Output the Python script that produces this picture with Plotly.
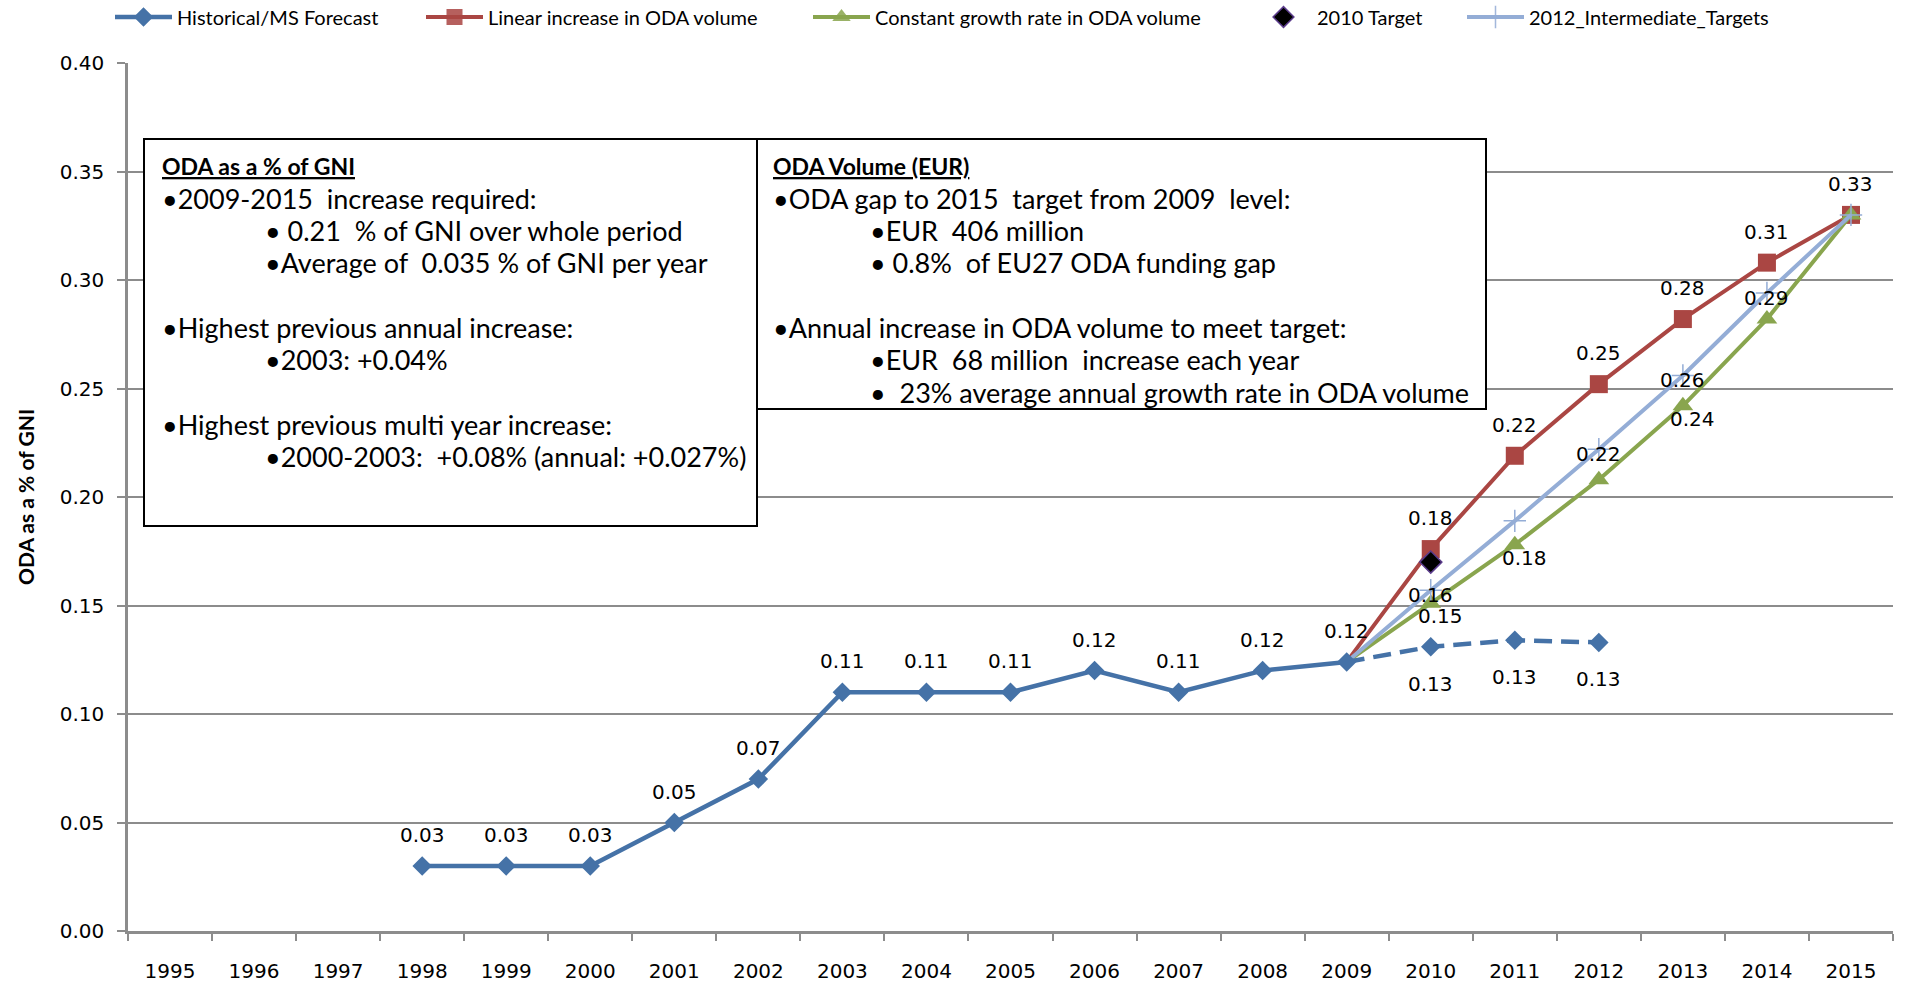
import plotly.graph_objects as go

# ---------------- data ----------------
years = ["1995", "1996", "1997", "1998", "1999", "2000", "2001", "2002", "2003", "2004",
         "2005", "2006", "2007", "2008", "2009", "2010", "2011", "2012", "2013", "2014", "2015"]

hist_years = ["1998", "1999", "2000", "2001", "2002", "2003", "2004", "2005", "2006", "2007", "2008", "2009"]
hist_vals = [0.03, 0.03, 0.03, 0.05, 0.07, 0.11, 0.11, 0.11, 0.12, 0.11, 0.12, 0.124]

fc_years = ["2009", "2010", "2011", "2012"]
fc_vals = [0.124, 0.131, 0.134, 0.133]

proj_years = ["2009", "2010", "2011", "2012", "2013", "2014", "2015"]
linear_vals = [0.124, 0.176, 0.219, 0.252, 0.282, 0.308, 0.330]
constant_vals = [0.124, 0.151, 0.178, 0.208, 0.242, 0.282, 0.330]
interm_vals = [0.124, 0.157, 0.189, 0.222, 0.256, 0.294, 0.330]

target_years = ["2010"]
target_vals = [0.170]

# which points carry a data label in the original
hist_labelled = hist_years
fc_labelled = ["2010", "2011", "2012"]
linear_labelled = ["2010", "2011", "2012", "2013", "2014", "2015"]
constant_labelled = ["2010", "2011", "2013"]
interm_labelled = ["2010", "2012", "2013", "2014"]

y_ticks = [0.00, 0.05, 0.10, 0.15, 0.20, 0.25, 0.30, 0.35, 0.40]

box1_title = "ODA as a % of GNI"
box1_lines = [
    (0, "•2009-2015\u00a0 increase required:"),
    (1, "•\u00a00.21\u00a0 % of GNI over whole period"),
    (1, "•Average of\u00a0 0.035 % of GNI per year"),
    (0, ""),
    (0, "•Highest previous annual increase:"),
    (1, "•2003: +0.04%"),
    (0, ""),
    (0, "•Highest previous multi year increase:"),
    (1, "•2000-2003:\u00a0 +0.08% (annual: +0.027%)"),
]
box2_title = "ODA Volume (EUR)"
box2_lines = [
    (0, "•ODA gap to 2015\u00a0 target from 2009\u00a0 level:"),
    (1, "•EUR\u00a0 406 million"),
    (1, "•\u00a00.8%\u00a0 of EU27 ODA funding gap"),
    (0, ""),
    (0, "•Annual increase in ODA volume to meet target:"),
    (1, "•EUR\u00a0 68 million\u00a0 increase each year"),
    (1, "•\u00a0 23% average annual growth rate in ODA volume"),
]

# ---------------- styling ----------------
W, H = 1908, 986
ML, MR, MT, MB = 128, 15, 63, 55
PW, PH = W - ML - MR, H - MT - MB

BLUE = "#4572A7"
RED = "#AA4643"
GREEN = "#89A54E"
LBLUE = "#94ADD6"
GRID = "#8C8C8C"
LABEL_FONT = dict(family="DejaVu Sans", size=20, color="#000000")
BOX_FONT = "Lato"

# projected series share the 2009 point with the historical line; hide their marker there
proj_marker_opacity = [0 if y == "2009" else 1 for y in proj_years]
fc_marker_opacity = [0 if y == "2009" else 1 for y in fc_years]


def px_x(px):
    return (px - ML) / PW


def px_y(py):
    return (H - MB - py) / PH


fig = go.Figure()

fig.add_trace(go.Scatter(
    x=proj_years, y=linear_vals, mode="lines+markers", name="Linear increase in ODA volume",
    line=dict(color=RED, width=4), legend="legend2",
    marker=dict(symbol="square", size=18, color=RED, opacity=proj_marker_opacity),
))
fig.add_trace(go.Scatter(
    x=proj_years, y=constant_vals, mode="lines+markers", name="Constant growth rate in ODA volume",
    line=dict(color=GREEN, width=4), legend="legend3",
    marker=dict(symbol="triangle-up", size=18, color=GREEN, opacity=proj_marker_opacity),
))
fig.add_trace(go.Scatter(
    x=target_years, y=target_vals, mode="markers", name="2010 Target", legend="legend4",
    marker=dict(symbol="diamond", size=17, color="#000000", line=dict(color="#5B3C8C", width=1.5)),
))
fig.add_trace(go.Scatter(
    x=proj_years, y=interm_vals, mode="lines+markers", name="2012_Intermediate_Targets",
    line=dict(color=LBLUE, width=4), legend="legend5",
    marker=dict(symbol="cross-thin", size=16, color=LBLUE, opacity=proj_marker_opacity,
                line=dict(color=LBLUE, width=1.5)),
))
fig.add_trace(go.Scatter(
    x=fc_years, y=fc_vals, mode="lines+markers", name="MS Forecast", showlegend=False,
    line=dict(color=BLUE, width=4.5, dash="18px,9px"),
    marker=dict(symbol="diamond", size=15, color=BLUE, opacity=fc_marker_opacity),
))
fig.add_trace(go.Scatter(
    x=hist_years, y=hist_vals, mode="lines+markers", name="Historical/MS Forecast",
    line=dict(color=BLUE, width=4.5), legend="legend",
    marker=dict(symbol="diamond", size=15, color=BLUE),
))

# ---------------- data labels ----------------
annotations = []


def add_labels(xs, ys, shown, xshift, yshift):
    for xv, yv in zip(xs, ys):
        if xv in shown:
            annotations.append(dict(
                x=years.index(xv), y=yv, xref="x", yref="y", text=f"{yv:.2f}", showarrow=False,
                font=LABEL_FONT, xanchor="center", yanchor="middle",
                xshift=xshift, yshift=yshift,
            ))


add_labels(hist_years, hist_vals, hist_labelled, 0, 31)
add_labels(fc_years, fc_vals, fc_labelled, 0, -37)
add_labels(proj_years, linear_vals, linear_labelled, 0, 31)
add_labels(proj_years, constant_vals, constant_labelled, 10, -13)
add_labels(proj_years, interm_vals, interm_labelled, 0, -5)

# ---------------- text boxes ----------------
shapes = []


def add_box(x0, y0, x1, y1, title, lines, main_x, sub_x, first_y, step, size, tsize):
    shapes.append(dict(
        type="rect", xref="paper", yref="paper",
        x0=px_x(x0), x1=px_x(x1), y0=px_y(y1), y1=px_y(y0),
        line=dict(color="#000000", width=2), fillcolor="#FFFFFF", layer="above",
    ))
    annotations.append(dict(
        x=px_x(main_x), y=px_y(first_y), xref="paper", yref="paper",
        text=f"<b><u>{title}</u></b>", showarrow=False, xanchor="left", yanchor="middle",
        font=dict(family=BOX_FONT, size=tsize, color="#000000"),
    ))
    for i, (lvl, txt) in enumerate(lines, start=1):
        if not txt:
            continue
        annotations.append(dict(
            x=px_x(sub_x if lvl else main_x), y=px_y(first_y + i * step),
            xref="paper", yref="paper", text=txt, showarrow=False,
            xanchor="left", yanchor="middle",
            font=dict(family=BOX_FONT, size=size, color="#000000"),
        ))


add_box(144, 139, 757, 526, box1_title, box1_lines, 160, 263, 166, 32.3, 27, 23)
add_box(757, 139, 1486, 409, box2_title, box2_lines, 771, 868, 166, 32.3, 27, 23)

legend_common = dict(
    orientation="h", yanchor="middle", y=px_y(17), xanchor="left",
    font=dict(family=BOX_FONT, size=20, color="#000000"),
    itemwidth=57, bgcolor="rgba(0,0,0,0)",
)

fig.update_layout(
    width=W, height=H,
    margin=dict(l=ML, r=MR, t=MT, b=MB, pad=0, autoexpand=False),
    paper_bgcolor="#FFFFFF", plot_bgcolor="#FFFFFF",
    showlegend=True,
    legend=dict(legend_common, x=px_x(110)),
    legend2=dict(legend_common, x=px_x(421)),
    legend3=dict(legend_common, x=px_x(808)),
    legend4=dict(legend_common, x=px_x(1250)),
    legend5=dict(legend_common, x=px_x(1462)),
    xaxis=dict(
        type="category", categoryorder="array", categoryarray=years,
        range=[-0.5, len(years) - 0.5],
        tickmode="array", tickvals=years, ticktext=years,
        tickson="boundaries", ticks="outside", ticklen=7, tickwidth=1.5, tickcolor=GRID,
        showline=True, linecolor=GRID, linewidth=2.5,
        showgrid=False, zeroline=False, automargin=False,
        tickfont=dict(family="DejaVu Sans", size=20, color="#000000"),
        ticklabelstandoff=20,
    ),
    yaxis=dict(
        range=[0, 0.40], tickmode="array", tickvals=y_ticks,
        tickformat=".2f", automargin=False,
        ticks="outside", ticklen=8, tickwidth=2, tickcolor=GRID,
        showline=True, linecolor=GRID, linewidth=2.5,
        showgrid=True, gridcolor=GRID, gridwidth=1.5, zeroline=False,
        tickfont=dict(family="DejaVu Sans", size=20, color="#000000"),
        ticklabelstandoff=9,
        title=dict(text="<b>ODA as a % of GNI</b>", standoff=20,
                   font=dict(family=BOX_FONT, size=21, color="#000000")),
    ),
    shapes=shapes,
    annotations=annotations,
)

fig.write_html("out.html", config={"displayModeBar": False},
               post_script="document.body.style.margin='0px';document.body.style.overflow='hidden';")
